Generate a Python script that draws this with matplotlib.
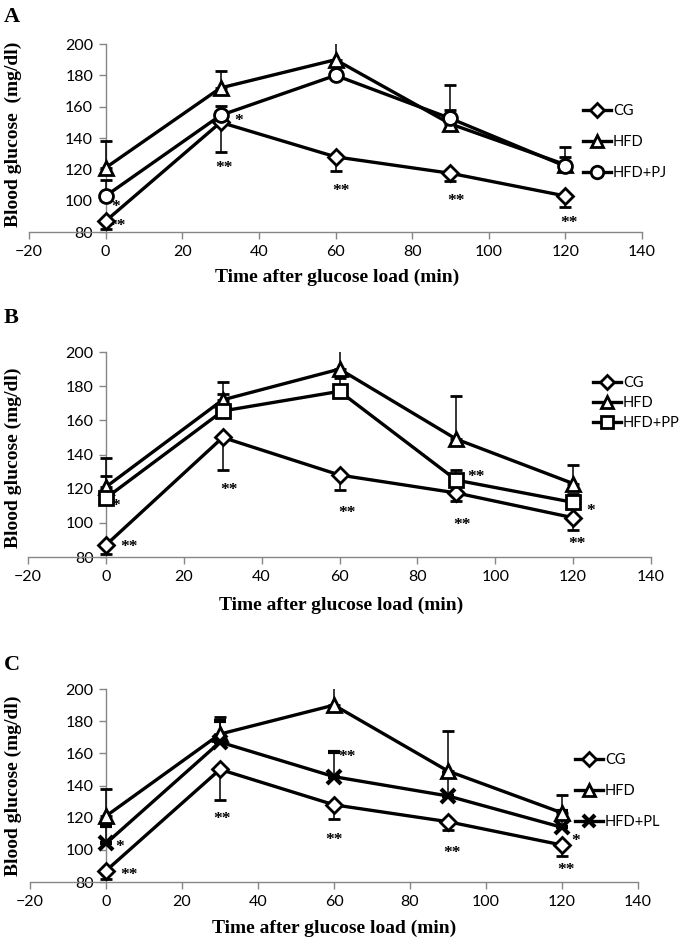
import numpy as np
import matplotlib.pyplot as plt
from matplotlib.lines import Line2D

# OGTT time points (min)
time = [0, 30, 60, 90, 120]

# shared groups
cg = [87, 150, 128, 117.5, 103]
cg_err = [5, 19, 9, 5, 7]          # drawn downwards only
hfd = [121, 172, 190, 149, 123]
hfd_err = [17, 10.5, 13, 25, 11]   # drawn upwards only

# treatment groups
pj = [103, 154.5, 180, 152.5, 122]
pj_err = [10, 6, 8, 5.5, 6]
pp = [114.5, 165.5, 177, 125, 112]
pp_err = [13, 10, 8, 6, 5]
pl = [104, 167, 145.5, 133.5, 114]
pl_err = [11, 13, 15.5, 14, 10]

# significance marks (x, y, text) per panel
stars_a = [(1.5, 96, "*"), (3, 84, "**"), (33.5, 151, "*"), (31, 121, "**"),
           (61.5, 106, "**"), (91.5, 99.5, "**"), (121, 85.5, "**")]
stars_b = [(1.5, 110, "*"), (6, 86, "**"), (31.5, 119.5, "**"), (62, 105.5, "**"),
           (95, 127, "**"), (91.5, 99, "**"), (123.5, 107, "*"), (121, 87.5, "**")]
stars_c = [(2.5, 101.5, "*"), (6, 84.5, "**"), (30.5, 119, "**"), (60, 106, "**"),
           (63.5, 158, "**"), (91, 98, "**"), (122.5, 105.5, "*"), (121, 87.5, "**")]

serif = "Liberation Serif"
sans = "Lato"
gray = "#868686"

fig = plt.figure(figsize=(6.85, 9.39), dpi=100)

panels = [
    dict(rect=[0.0423, 0.7529, 0.895, 0.2002], letter="A", ly=0.993,
         ylab="Blood glucose  (mg/dl)", yly=0.857, xlx=0.492, xly=0.705,
         treat=(pj, pj_err, "o", 10, "HFD+PJ"), stars=stars_a,
         leg=(0.851, 0.8488), lsp=1.15),
    dict(rect=[0.0409, 0.4068, 0.9095, 0.2183], letter="B", ly=0.672,
         ylab="Blood glucose (mg/dl)", yly=0.513, xlx=0.498, xly=0.3557,
         treat=(pp, pp_err, "s", 10, "HFD+PP"), stars=stars_b,
         leg=(0.866, 0.5708), lsp=0.4),
    dict(rect=[0.0438, 0.0607, 0.8876, 0.2055], letter="C", ly=0.302,
         ylab="Blood glucose (mg/dl)", yly=0.163, xlx=0.4876, xly=0.0117,
         treat=(pl, pl_err, "x", 10, "HFD+PL"), stars=stars_c,
         leg=(0.8394, 0.1576), lsp=1.15),
]

for p in panels:
    ax = fig.add_axes(p["rect"])
    tv, te, tm, tms, tlab = p["treat"]
    zeros = [0] * len(time)

    groups = [
        (cg, [cg_err, zeros], "D", 8, 2, "CG"),
        (hfd, [zeros, hfd_err], "^", 10, 2, "HFD"),
        (tv, [zeros, te], tm, tms, 3 if tm == "x" else 2, tlab),
    ]
    handles = []
    for vals, err, mk, ms, mew, lab in groups:
        ax.errorbar(time, vals, yerr=err, color="black", lw=2.4,
                    marker=mk, ms=ms, mfc="white", mec="black", mew=mew,
                    ecolor="black", elinewidth=1.1, capsize=4, capthick=1.1,
                    zorder=3)
        handles.append(Line2D([], [], color="black", lw=2.4, marker=mk,
                              ms=ms * 0.9, mfc="white", mec="black", mew=mew,
                              label=lab))

    for sx, sy, st in p["stars"]:
        ax.text(sx, sy, st, fontsize=12.5, fontweight="bold", family=serif,
                ha="left" if st == "*" else "center", va="center")

    ax.set_xlim(-20, 140)
    ax.set_ylim(80, 200)
    ax.set_xticks(np.arange(-20, 141, 20))
    ax.set_yticks(np.arange(80, 201, 20))

    ax.spines["left"].set_position(("data", 0))
    ax.spines["top"].set_visible(False)
    ax.spines["right"].set_visible(False)
    for s in ("left", "bottom"):
        ax.spines[s].set_color(gray)
        ax.spines[s].set_linewidth(1.0)
    ax.tick_params(direction="out", length=5, width=1.0, color=gray,
                   labelsize=11.5, pad=4)
    for lab in ax.get_xticklabels() + ax.get_yticklabels():
        lab.set_family(sans)
    ax.patch.set_visible(False)

    fig.legend(handles=handles, loc="center left", bbox_to_anchor=p["leg"],
               frameon=False, prop={"family": sans, "size": 10.5},
               handlelength=1.9, handletextpad=0.15, borderpad=0,
               borderaxespad=0, labelspacing=p["lsp"])

    fig.text(0.006, p["ly"], p["letter"], fontsize=16, fontweight="bold",
             family=serif, va="top", ha="left")
    fig.text(0.019, p["yly"], p["ylab"], fontsize=14, fontweight="bold",
             family=serif, rotation=90, va="center", ha="center")
    fig.text(p["xlx"], p["xly"], "Time after glucose load (min)", fontsize=14,
             fontweight="bold", family=serif, va="center", ha="center")

fig.savefig("out.png", dpi=100)
